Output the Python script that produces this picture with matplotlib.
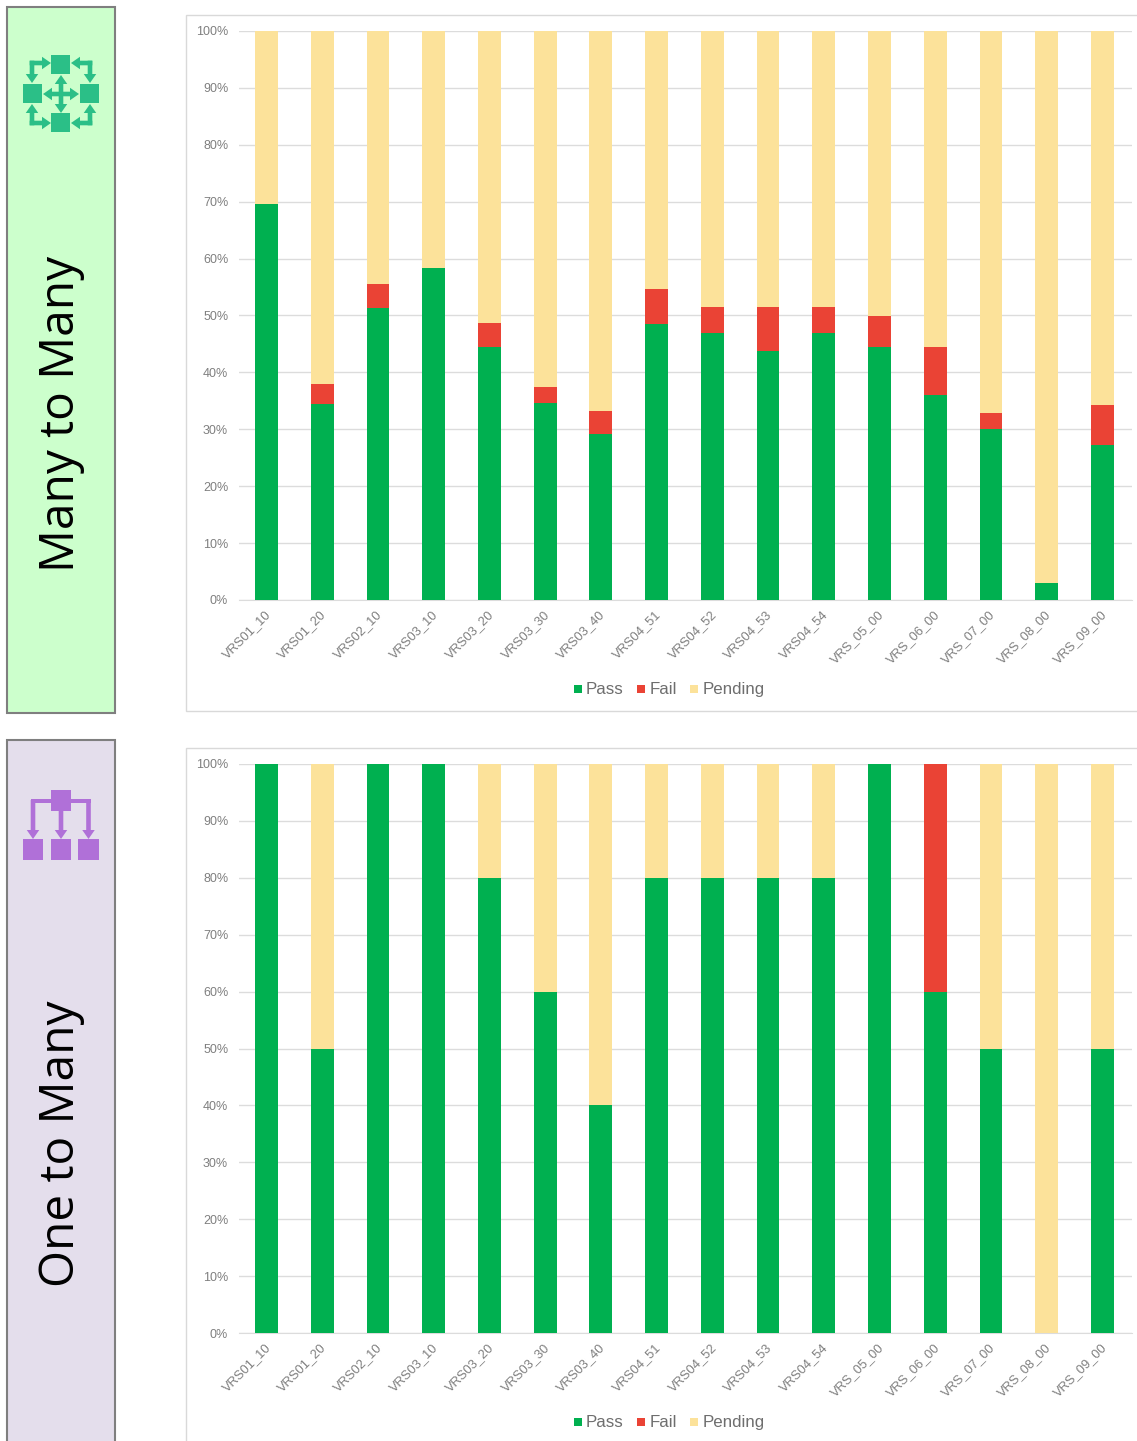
import numpy as np
import matplotlib
matplotlib.use('Agg')
import matplotlib.pyplot as plt
from matplotlib.patches import Rectangle, FancyArrow
from matplotlib.transforms import ScaledTranslation

W, H = 1137, 1441

versions = ['VRS01_10', 'VRS01_20', 'VRS02_10', 'VRS03_10', 'VRS03_20', 'VRS03_30', 'VRS03_40', 'VRS04_51',
            'VRS04_52', 'VRS04_53', 'VRS04_54', 'VRS_05_00', 'VRS_06_00', 'VRS_07_00', 'VRS_08_00', 'VRS_09_00']
pct_ticks = [0, 10, 20, 30, 40, 50, 60, 70, 80, 90, 100]

m2m_pass = [69.6, 34.5, 51.3, 58.4, 44.4, 34.6, 29.1, 48.5, 46.9, 43.8, 46.9, 44.4, 36.1, 30.1, 2.9, 27.2]
m2m_fail = [0, 3.4, 4.2, 0, 4.2, 2.9, 4.2, 6.1, 4.6, 7.7, 4.6, 5.6, 8.3, 2.7, 0, 7.0]
m2m_pending = [30.4, 62.1, 44.5, 41.6, 51.4, 62.5, 66.7, 45.4, 48.5, 48.5, 48.5, 50.0, 55.6, 67.2, 97.1, 65.8]

o2m_pass = [100, 50, 100, 100, 80, 60, 40, 80, 80, 80, 80, 100, 60, 50, 0, 50]
o2m_fail = [0, 0, 0, 0, 0, 0, 0, 0, 0, 0, 0, 0, 40, 0, 0, 0]
o2m_pending = [0, 50, 0, 0, 20, 40, 60, 20, 20, 20, 20, 0, 0, 50, 100, 50]

legend_names = ['Pass', 'Fail', 'Pending']

GREEN = '#00b050'
RED = '#ea4335'
YELLOW = '#fce29a'
GREY = '#7f7f7f'
GRID = '#dcdcdc'
FONT = 'Liberation Sans'

fig = plt.figure(figsize=(W / 100, H / 100), dpi=100)

# overlay in pixel coordinates for the side panels, frames and icons
bg = fig.add_axes([0, 0, 1, 1])
bg.set_xlim(0, W)
bg.set_ylim(H, 0)
bg.axis('off')


def arrow(x0, y0, x1, y1, color):
    bg.add_patch(FancyArrow(x0, y0, x1 - x0, y1 - y0, width=4.6, head_width=12.5, head_length=9,
                            length_includes_head=True, color=color, lw=0))


def square(x0, y0, x1, y1, color):
    bg.add_patch(Rectangle((x0, y0), x1 - x0, y1 - y0, facecolor=color, edgecolor='none'))


def panel(y0, y1, color, label, yc):
    bg.add_patch(Rectangle((7, y0), 108, y1 - y0, facecolor=color, edgecolor=GREY, lw=1.5))
    bg.text(61.5, yc, label, rotation=90, ha='center', va='center', fontsize=34.4, family='Open Sans', color='black')


panel(7, 713, '#ccffcc', 'Many to Many', 414)
panel(740, 1460, '#e4deec', 'One to Many', 1144)

# frames around the charts
bg.add_patch(Rectangle((185.9, 15), 980, 696, facecolor='white', edgecolor='#d9d9d9', lw=1))
bg.add_patch(Rectangle((185.9, 748), 980, 720, facecolor='white', edgecolor='#d9d9d9', lw=1))

# many to many icon
c1 = '#2bbf87'
square(51, 55, 70, 74, c1)
square(23, 84, 42, 103, c1)
square(80, 84, 99, 103, c1)
square(51, 113, 70, 132, c1)
for cx, cy, xt, yt in [(32, 63, 51, 83), (90, 63, 71, 83), (32, 123, 51, 104), (90, 123, 71, 104)]:
    arrow(cx - 2.3 if xt > cx else cx + 2.3, cy, xt, cy, c1)
    arrow(cx, cy - 2.3 if yt > cy else cy + 2.3, cx, yt, c1)
arrow(61, 94, 43, 94, c1)
arrow(61, 94, 79, 94, c1)
arrow(61, 94, 61, 75, c1)
arrow(61, 94, 61, 113, c1)

# one to many icon
c2 = '#b070d8'
square(51, 790, 71, 811, c2)
square(23, 839, 43, 860, c2)
square(51, 839, 71, 860, c2)
square(78, 839, 99, 860, c2)
square(30.7, 798.5, 90.8, 803.1, c2)
for x in [33, 61, 88.5]:
    arrow(x, 800, x, 839, c2)


def chart(top, p, f, n):
    left, right = 238.6, 1132
    bottom = top + 569
    ax = fig.add_axes([left / W, 1 - bottom / H, (right - left) / W, 569 / H])
    ax.patch.set_alpha(0)
    x = np.arange(len(versions))
    p = np.array(p)
    f = np.array(f)
    n = np.array(n)
    ax.bar(x, p, 0.41, color=GREEN, zorder=3)
    ax.bar(x, f, 0.41, bottom=p, color=RED, zorder=3)
    ax.bar(x, n, 0.41, bottom=p + f, color=YELLOW, zorder=3)
    ax.set_xlim(-0.5, 15.53)
    ax.set_ylim(0, 100)
    ax.set_yticks(pct_ticks)
    ax.set_yticklabels([str(t) + '%' for t in pct_ticks], fontsize=9, color=GREY, family=FONT)
    ax.set_xticks(x)
    ax.set_xticklabels(versions, rotation=45, ha='right', rotation_mode='anchor', fontsize=9.3, color=GREY, family=FONT)
    ax.tick_params(length=0)
    ax.tick_params(axis='y', pad=7.5)
    ax.tick_params(axis='x', pad=6)
    # tick_params resets label transforms, so the nudge comes after it
    shift = ScaledTranslation(-2 / 100, 0, fig.dpi_scale_trans)
    for lab in ax.get_xticklabels():
        lab.set_transform(lab.get_transform() + shift)
    ax.grid(axis='y', color=GRID, lw=1, zorder=0)
    for s in ['top', 'right', 'left']:
        ax.spines[s].set_visible(False)
    ax.spines['bottom'].set_color(GRID)
    # legend drawn by hand so the labels share one baseline
    base = bottom + 94.2
    for c, name, sx, tx in zip([GREEN, RED, YELLOW], legend_names, [574, 637, 690], [586, 650, 703]):
        square(sx, base - 9.2, sx + 8, base - 1.2, c)
        bg.text(tx, base, name, fontsize=12.2, family=FONT, color='#6e6e6e', va='baseline', ha='left')
    return ax


chart(31, m2m_pass, m2m_fail, m2m_pending)
chart(764, o2m_pass, o2m_fail, o2m_pending)

fig.savefig('out.png', dpi=100)
